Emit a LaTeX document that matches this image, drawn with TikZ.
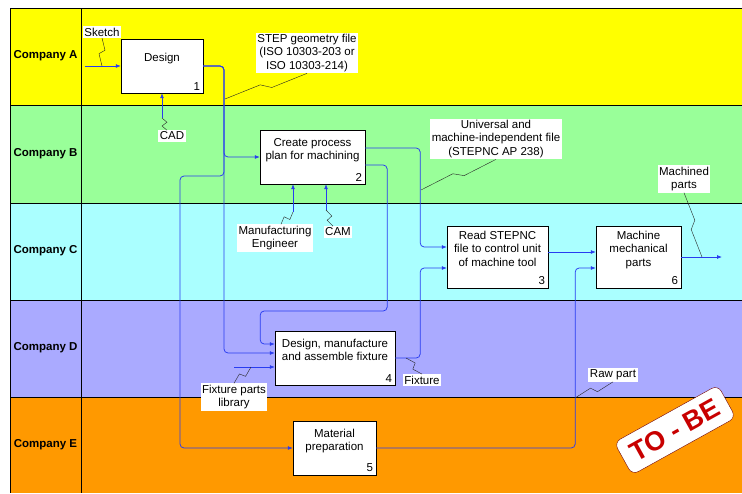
\documentclass[tikz,border=0pt]{standalone}
\usepackage{fontspec}
\setmainfont{Liberation Sans}
\usetikzlibrary{positioning, arrows.meta, calc}

\definecolor{laneA}{RGB}{255,255,0}
\definecolor{laneB}{RGB}{153,255,153}
\definecolor{laneC}{RGB}{170,255,255}
\definecolor{laneD}{RGB}{170,170,255}
\definecolor{laneE}{RGB}{255,153,0}
\definecolor{flowblue}{RGB}{40,60,240}
\definecolor{stampred}{RGB}{200,0,0}

\tikzset{
  proc/.style={draw, fill=white, align=center, minimum height=54pt, text depth=16.5pt},
  num/.style={anchor=south east, inner sep=3pt},
  flow/.style={draw=flowblue, line width=0.75pt, -{Latex[length=5pt,width=4pt]}, rounded corners=4pt},
  tag/.style={fill=white, inner sep=1.5pt, align=center},
  lanename/.style={font=\fontsize{11.5}{13.3}\bfseries\selectfont},
  stamp/.style={draw=red!45!black, fill=white, rounded corners=7pt, text=stampred,
    font=\fontsize{27}{27}\bfseries\selectfont, inner xsep=10pt, inner ysep=9pt}
}

% leader line with a small zigzag
\newcommand{\squiggle}[2]{\draw[black!85] (#1) -- ($(#1)!.44!(#2)!3pt!90:(#2)$) -- ($(#1)!.56!(#2)!3pt!-90:(#2)$) -- (#2);}

\begin{document}
\begin{tikzpicture}[x=1pt, y=-1pt, font=\fontsize{11.5}{13.3}\selectfont]
\useasboundingbox (0,0) rectangle (742,493);

% swim lanes
\fill[laneA] (10,8) rectangle (742,105);
\fill[laneB] (10,105) rectangle (742,203);
\fill[laneC] (10,203) rectangle (742,300);
\fill[laneD] (10,300) rectangle (742,397);
\fill[laneE] (10,397) rectangle (742,493);
\draw (742,8) -- (10,8) -- (10,493);
\foreach \y in {105,203,300,397}
  \draw (10,\y) -- (742,\y);
\draw (81,8) -- (81,493);

\node[lanename] (ca) at (45.5,56) {Company A};
\node[lanename] (cb) at (45.5,154) {Company B};
\node[lanename] (cc) at (45.5,251) {Company C};
\node[lanename] (cd) at (45.5,348) {Company D};
\node[lanename] (ce) at (45.5,445) {Company E};

% activities
\node[proc, minimum width=82pt] (design) at (162,66) {Design};
\node[proc, minimum width=105pt] (plan) at (312.5,157) {Create process\\plan for machining};
\node[proc, minimum width=101pt, minimum height=62pt] (read) at (497.5,257) {Read STEPNC\\file to control unit\\of machine tool};
\node[proc, minimum width=85pt, minimum height=62pt] (machine) at (638.5,257) {Machine\\mechanical\\parts};
\node[proc, minimum width=120pt] (fixture) at (335,358) {Design, manufacture\\and assemble fixture};
\node[proc, minimum width=83pt] (prep) at (334.5,448) {Material\\preparation};

\node[num] (n1) at (design.south east) {1};
\node[num] (n2) at (plan.south east) {2};
\node[num] (n3) at (read.south east) {3};
\node[num] (n6) at (machine.south east) {6};
\node[num] (n4) at (fixture.south east) {4};
\node[num] (n5) at (prep.south east) {5};

% free ends
\coordinate (bus) at (224,66);
\coordinate (skin) at (85,66);
\coordinate (cadin) at (162,118);
\coordinate (mfgin) at (293,212);
\coordinate (camin) at (326,210);
\coordinate (libin) at (234,367);
\coordinate (out) at (722,257);

% flows
\draw[flow] (skin) -- (design.west);
\draw[flow] (cadin) -- (design.south);
\draw[flow] (design.east) -- (bus) |- (plan.west);
\draw[flow] (design.east) -- (bus) |- ([yshift=5pt]fixture.west);
\draw[flow] (design.east) -- (bus) -- ++(0,110) -- ++(-44,0) |- (prep.west);
\draw[flow] (mfgin) -- (mfgin |- plan.south);
\draw[flow] (camin) -- (camin |- plan.south);
\draw[flow] ([yshift=9pt]plan.east) -- ++(55,0) |- ([yshift=10pt]read.west);
\draw[flow] ([yshift=-8pt]plan.east) -- ++(22,0) -- ++(0,146) -- ++(-127,0) |- ([yshift=14pt]fixture.west);
\draw[flow] (libin) -- (libin -| fixture.west);
\draw[flow] (fixture.east) -- ++(25,0) |- ([yshift=-11pt]read.west);
\draw[flow] ([yshift=5pt]read.east) -- ([yshift=5pt]machine.west);
\draw[flow] (prep.east) -- ++(199,0) |- ([yshift=-11pt]machine.west);
\draw[flow] (machine.east) -- (out);

% labels
\node[tag] (sketch) at (102,32) {Sketch};
\node[tag] (cad) at (172,136) {CAD};
\node[tag] (step) at (307,53) {STEP geometry file\\(ISO 10303-203 or\\ISO 10303-214)};
\node[tag] (univ) at (496,139) {Universal and\\machine-independent file\\(STEPNC AP 238)};
\node[tag] (machined) at (684,179) {Machined\\parts};
\node[tag] (mfg) at (275,238) {Manufacturing\\Engineer};
\node[tag] (cam) at (338,232) {CAM};
\node[tag] (lib) at (234,397) {Fixture parts\\library};
\node[tag] (fixout) at (422,380) {Fixture};
\node[tag] (raw) at (613,375) {Raw part};

\coordinate (stepat) at (225,99);
\coordinate (univat) at (421,190);
\coordinate (machat) at (702,257);
\coordinate (libat) at (251,367);
\coordinate (fixat) at (406,358);
\coordinate (rawat) at (575,398);

\squiggle{sketch.south}{sketch.south |- skin}
\squiggle{[xshift=-5pt]cad.north}{cadin}
\squiggle{step.south}{stepat}
\squiggle{univ.south}{univat}
\squiggle{machined.south}{machat}
\squiggle{[xshift=6pt]mfg.north}{mfgin}
\squiggle{[xshift=-5pt]cam.north}{camin}
\squiggle{lib.north}{libat}
\squiggle{fixout.north}{fixat}
\squiggle{raw.south}{rawat}

% stamp
\node[stamp, rotate=29] (tobe) at (675,430) {TO - BE};
\end{tikzpicture}
\end{document}
